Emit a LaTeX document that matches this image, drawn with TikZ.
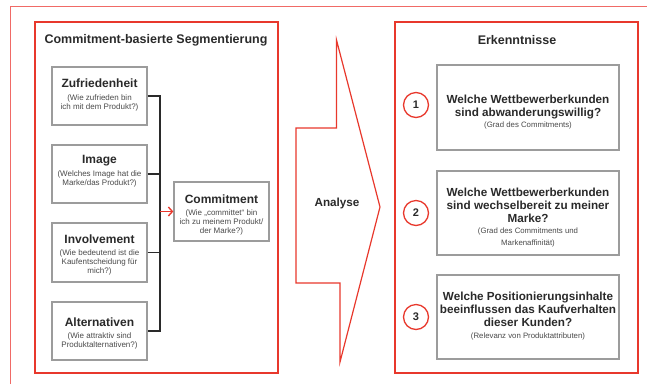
\documentclass[tikz,border=0pt]{standalone}
\usepackage{fontspec}
\setmainfont{Liberation Sans}
\usetikzlibrary{arrows.meta}
\definecolor{rd}{HTML}{E8382C}
\definecolor{rdl}{HTML}{F06A66}
\definecolor{gb}{HTML}{9C9C9C}
\definecolor{tx}{HTML}{2A2A2A}
\begin{document}
\begin{tikzpicture}[x=1pt,y=-1pt,
  redbox/.style={draw=rd,line width=1.6pt},
  graybox/.style={draw=gb,line width=1.4pt,fill=white,inner sep=0},
  ttl/.style={font=\bfseries\fontsize{12.5}{14}\selectfont,text=tx,inner sep=0},
  lhead/.style={font=\bfseries\fontsize{12}{14}\selectfont,text=tx,inner sep=0},
  rhead/.style={font=\bfseries\fontsize{11.7}{13}\selectfont,text=tx,align=center,inner sep=0},
  sub/.style={font=\fontsize{8}{9}\selectfont,text=tx!85,align=center,inner sep=0},
  num/.style={circle,draw=rd,line width=1.3pt,minimum size=25pt,inner sep=0,font=\bfseries\fontsize{11}{12}\selectfont,text=tx},
  wire/.style={draw=tx,line width=1.4pt}
]
\useasboundingbox (0,0) rectangle (647,384);
% outer frame (cut off at the picture edge)
\draw[rdl,line width=0.9pt] (10,384) -- (10,6) -- (647,6);
% left panel
\draw[redbox] (35,22) rectangle (278,373);
\node[ttl] (ltitle) at (156,40) {Commitment-basierte Segmentierung};
\node[graybox,minimum width=95pt,minimum height=58pt] (zuf) at (99.5,96) {};
\node[graybox,minimum width=95pt,minimum height=58pt] (img) at (99.5,174) {};
\node[graybox,minimum width=95pt,minimum height=59pt] (inv) at (99.5,252.5) {};
\node[graybox,minimum width=95pt,minimum height=58pt] (alt) at (99.5,331) {};
\node[graybox,minimum width=95pt,minimum height=59pt] (com) at (221.5,211.5) {};
\node[lhead] (zufh) at (99.5,83) {Zufriedenheit};
\node[sub] (zufs) at (99.5,102.5) {(Wie zufrieden bin\\ich mit dem Produkt?)};
\node[lhead] (imgh) at (99.5,161) {Image};
\node[sub] (imgs) at (99.5,179) {(Welches Image hat die\\Marke/das Produkt?)};
\node[lhead] (invh) at (99.5,239) {Involvement};
\node[sub] (invs) at (99.5,262) {(Wie bedeutend ist die\\Kaufentscheidung für\\mich?)};
\node[lhead] (alth) at (99.5,322) {Alternativen};
\node[sub] (alts) at (99.5,340.5) {(Wie attraktiv sind\\Produktalternativen?)};
\node[lhead] (comh) at (221.5,199) {Commitment};
\node[sub] (coms) at (221.5,222) {(Wie „committet“ bin\\ich zu meinem Produkt/\\der Marke?)};
% bracket
\coordinate (bx) at (160,0);
\draw[wire] (zuf.east) -- (zuf.east -| bx) -- (alt.east -| bx) -- (alt.east);
\draw[wire] (img.east) -- (img.east -| bx);
\draw[wire] (inv.east) -- (inv.east -| bx);
\draw[draw=rd,line width=1.4pt,-{Straight Barb[length=4pt,width=9pt,line width=1.4pt]}] (bx |- com.west) -- (com.west);
% analysis arrow
\draw[rd,line width=1.2pt,line join=miter,fill=white] (336.5,40) -- (336.5,128) -- (296,128) -- (296,283) -- (340,283) -- (340,362) -- (380,207) -- cycle;
\node[font=\bfseries\fontsize{11.7}{13}\selectfont,text=tx,inner sep=0] (ana) at (337,203) {Analyse};
% right panel
\draw[redbox] (395,22) rectangle (638,373);
\node[ttl] (rtitle) at (517,40) {Erkenntnisse};
\node[graybox,minimum width=182pt,minimum height=85pt] (b1) at (528,107.5) {};
\node[graybox,minimum width=182pt,minimum height=84pt] (b2) at (528,213) {};
\node[graybox,minimum width=182pt,minimum height=84pt] (b3) at (528,317) {};
\node[rhead] (b1h) at (528,106.5) {Welche Wettbewerberkunden\\sind abwanderungswillig?};
\node[sub,font=\fontsize{7.8}{9}\selectfont] (b1s) at (528,125) {(Grad des Commitments)};
\node[rhead] (b2h) at (528,205) {Welche Wettbewerberkunden\\sind wechselbereit zu meiner\\Marke?};
\node[sub,font=\fontsize{7.8}{11.5}\selectfont] (b2s) at (528,237.5) {(Grad des Commitments und\\Markenaffinität)};
\node[rhead] (b3h) at (528,309) {Welche Positionierungsinhalte\\beeinflussen das Kaufverhalten\\dieser Kunden?};
\node[sub,font=\fontsize{7.8}{9}\selectfont] (b3s) at (528,336) {(Relevanz von Produktattributen)};
\node[num] (n1) at (416,105) {1};
\node[num] (n2) at (416,213) {2};
\node[num] (n3) at (416,317) {3};
\end{tikzpicture}
\end{document}
